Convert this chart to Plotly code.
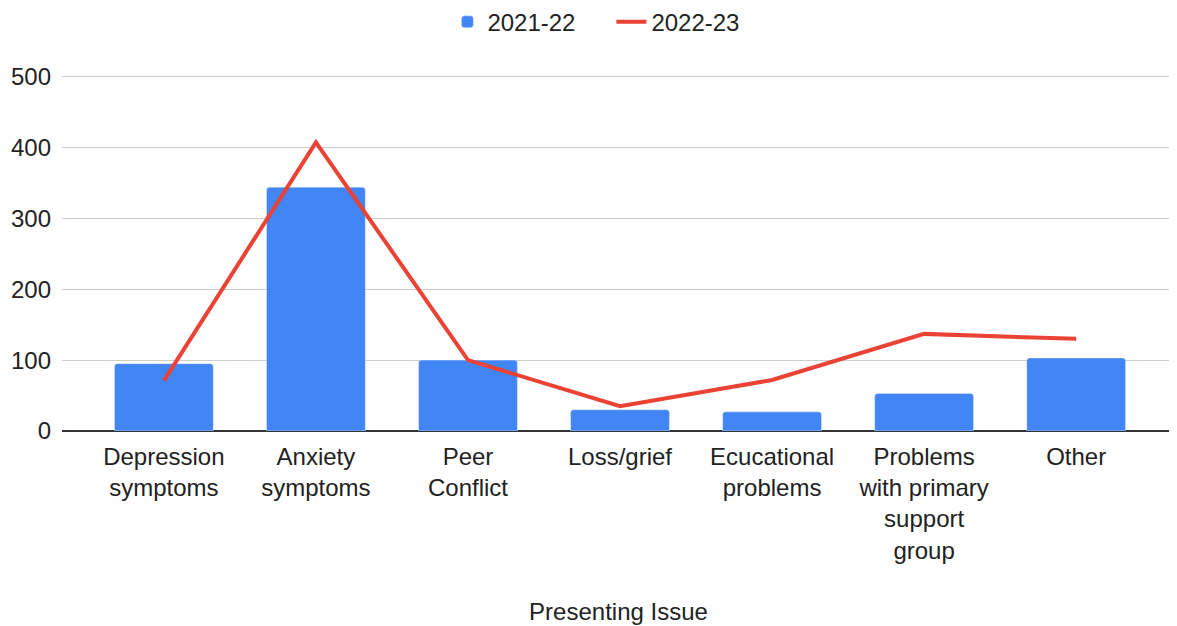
import plotly.graph_objects as go

categories = ["Depression<br>symptoms", "Anxiety<br>symptoms", "Peer<br>Conflict", "Loss/grief",
              "Ecucational<br>problems", "Problems<br>with primary<br>support<br>group", "Other"]
values_2122 = [95, 344, 100, 30, 27, 53, 103]
values_2223 = [71, 407, 100, 35, 72, 137, 130]
y_ticks = [0, 100, 200, 300, 400, 500]

font_family = "Liberation Sans, Arial, sans-serif"
txt = "#222222"
fs = 24

fig = go.Figure()
fig.add_trace(go.Bar(x=list(range(len(categories))), y=values_2122, name="2021-22",
                     marker=dict(color="#4285f4", cornerradius=3), width=0.65))
fig.add_trace(go.Scatter(x=list(range(len(categories))), y=values_2223, name="2022-23",
                         mode="lines", line=dict(color="#ea4335", width=4)))

fig.update_layout(
    width=1169, height=618,
    margin=dict(l=54, r=2, t=65, b=195),
    plot_bgcolor="white", paper_bgcolor="white",
    font=dict(family=font_family, size=fs, color=txt),
    showlegend=True,
    legend=dict(orientation="h", x=0.4936, xanchor="center", y=0.977, yref="container", yanchor="middle",
                font=dict(size=fs, color=txt), itemwidth=30, entrywidth=119,
                traceorder="normal"),
    xaxis=dict(
        tickmode="array", tickvals=list(range(len(categories))), ticktext=categories,
        range=[-0.67, 6.65], showgrid=False, ticks="", zeroline=False,
        tickfont=dict(size=fs, color=txt), ticklabelstandoff=9,
        title=dict(text="Presenting Issue", font=dict(size=fs, color=txt), standoff=40),
        automargin=False,
    ),
    yaxis=dict(
        range=[0, 505], tickvals=y_ticks, showgrid=True, gridcolor="#cccccc", gridwidth=1,
        zeroline=True, zerolinecolor="#333333", zerolinewidth=2,
        tickfont=dict(size=fs, color=txt), ticks="", ticklabelstandoff=10,
        automargin=False,
    ),
)
fig.write_html("out.html")
